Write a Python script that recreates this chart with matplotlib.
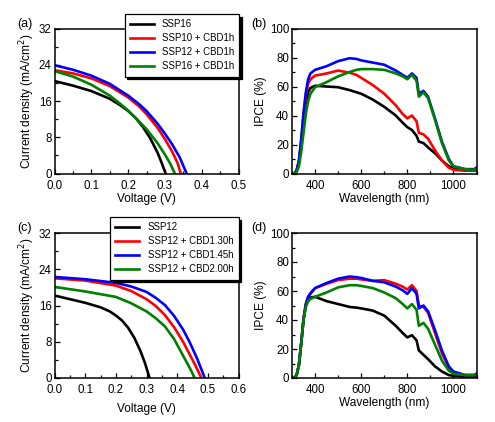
import matplotlib
matplotlib.use("Agg")
import matplotlib.pyplot as plt
from matplotlib.ticker import MultipleLocator

plt.rcParams['font.family'] = ['Liberation Sans', 'DejaVu Sans']

# ---------------- Panel (a) J-V ----------------
a_labels = ["SSP16", "SSP10 + CBD1h", "SSP12 + CBD1h", "SSP16 + CBD1h"]
a_v_black = [0.0, 0.05, 0.1, 0.15, 0.18, 0.2, 0.22, 0.24, 0.26, 0.28, 0.29, 0.302]
a_j_black = [20.4, 19.4, 18.2, 16.5, 15.0, 13.8, 12.3, 10.3, 7.8, 4.6, 2.6, 0.0]
a_v_red = [0.0, 0.05, 0.1, 0.15, 0.2, 0.23, 0.25, 0.28, 0.3, 0.32, 0.335, 0.343]
a_j_red = [22.8, 22.1, 21.0, 19.3, 16.8, 14.8, 13.1, 10.1, 7.6, 4.8, 2.2, 0.0]
a_v_blue = [0.0, 0.05, 0.1, 0.15, 0.2, 0.23, 0.25, 0.28, 0.3, 0.32, 0.34, 0.359]
a_j_blue = [23.9, 22.9, 21.6, 19.8, 17.2, 15.3, 13.8, 11.0, 8.8, 6.4, 3.6, 0.0]
a_v_green = [0.0, 0.05, 0.1, 0.15, 0.18, 0.2, 0.22, 0.25, 0.28, 0.3, 0.315, 0.327]
a_j_green = [22.6, 21.4, 19.6, 17.2, 15.3, 13.9, 12.3, 9.8, 6.7, 4.2, 2.1, 0.0]

# ---------------- Panel (c) J-V ----------------
c_labels = ["SSP12", "SSP12 + CBD1.30h", "SSP12 + CBD1.45h", "SSP12 + CBD2.00h"]
c_v_black = [0.0, 0.05, 0.1, 0.15, 0.18, 0.2, 0.22, 0.24, 0.26, 0.28, 0.295, 0.31]
c_j_black = [18.2, 17.4, 16.6, 15.6, 14.7, 13.8, 12.7, 11.1, 8.9, 6.0, 3.3, 0.0]
c_v_red = [0.0, 0.1, 0.2, 0.25, 0.3, 0.33, 0.36, 0.39, 0.42, 0.44, 0.46, 0.479]
c_j_red = [22.0, 21.5, 20.4, 19.2, 17.4, 15.9, 13.9, 11.2, 7.9, 5.3, 2.7, 0.0]
c_v_blue = [0.0, 0.1, 0.2, 0.25, 0.3, 0.33, 0.36, 0.39, 0.42, 0.44, 0.465, 0.49]
c_j_blue = [22.3, 21.8, 21.0, 20.2, 19.0, 17.7, 16.1, 13.7, 10.6, 8.0, 4.3, 0.0]
c_v_green = [0.0, 0.1, 0.2, 0.25, 0.3, 0.33, 0.36, 0.39, 0.41, 0.43, 0.445, 0.457]
c_j_green = [20.1, 19.1, 17.9, 16.5, 14.7, 13.2, 11.4, 8.6, 6.1, 3.6, 1.7, 0.0]

# ---------------- Panel (b) IPCE ----------------
wl = [300, 310, 320, 330, 340, 350, 360, 370, 380, 400, 450, 500, 550, 580, 600, 650,
      700, 750, 780, 800, 820, 840, 850, 870, 890, 920, 950, 980, 1000, 1050, 1090, 1100]
b_black = [0, 0, 2, 8, 20, 36, 48, 56, 59, 60.5, 60, 59.5, 57.5, 56, 55, 51,
           46, 40, 35, 32, 30, 26, 22, 21, 18, 14, 9, 5, 3.5, 2, 2, 2]
b_red = [0, 0, 2, 8, 22, 40, 54, 62, 65, 67.5, 69, 71, 69.5, 68, 66, 61,
         55, 47, 41, 38, 40, 36, 28, 27, 24, 16, 9, 4, 2.5, 2, 2, 2]
b_blue = [0, 0, 2, 9, 24, 42, 56, 65, 69, 71.5, 74, 77.5, 79.5, 79, 78, 76.5,
          75, 71, 68, 66, 69, 66, 55, 57, 53, 38, 22, 10, 5, 3, 3, 4]
b_green = [0, 0, 1, 5, 15, 28, 41, 50, 55, 59.5, 63, 67, 70, 71.5, 72, 72,
           71.5, 69, 67, 65, 68, 64, 53, 56, 52, 37, 21, 9, 5, 3, 2.5, 3]

# ---------------- Panel (d) IPCE ----------------
d_black = [0, 0, 2, 9, 24, 40, 50, 54, 55.5, 56, 53, 51, 49, 48.5, 48, 46.5,
           43, 36, 31, 28, 29.5, 26, 19, 16, 13, 8, 4.5, 2, 1.5, 1, 1, 1.5]
d_red = [0, 0, 2, 9, 24, 41, 51, 56, 58, 62, 65, 67.5, 68.5, 68.5, 68, 67,
         67.5, 65, 63, 61, 64, 60, 50, 49, 45, 31, 17, 7, 4, 2, 2, 2]
d_blue = [0, 0, 2, 9, 24, 41, 51, 56, 58.5, 62, 65.5, 68.5, 70, 69.5, 69, 67,
          66, 63, 60.5, 58, 62, 58, 48, 50, 46, 33, 19, 8, 4.5, 2, 2, 3]
d_green = [0, 0, 2, 9, 24, 40, 49, 53, 54.5, 56, 59, 62.5, 64, 64, 63.5, 62,
           59, 55, 51, 48, 51, 47, 36, 38, 34, 23, 12, 5, 3, 2, 2, 2]

colors = ["black", "#ff0000", "#0000ff", "#008000"]
LW = 1.9

fig = plt.figure(figsize=(4.95, 4.22), dpi=100)
W, H = 495.0, 422.0

def ax_at(l, t, r, b):
    return fig.add_axes([l / W, 1 - b / H, (r - l) / W, (b - t) / H])

axa = ax_at(54.5, 28.5, 238.5, 173.5)
axb = ax_at(292.0, 28.5, 476.5, 173.5)
axc = ax_at(54.5, 233.0, 238.5, 378.0)
axd = ax_at(292.0, 233.0, 476.5, 378.0)

def style(ax, xmaj, xmin, ymaj, ymin):
    ax.xaxis.set_major_locator(MultipleLocator(xmaj))
    ax.xaxis.set_minor_locator(MultipleLocator(xmin))
    ax.yaxis.set_major_locator(MultipleLocator(ymaj))
    ax.yaxis.set_minor_locator(MultipleLocator(ymin))
    ax.tick_params(which='both', direction='in', top=False, right=False,
                   labelsize=8.3, width=0.9)
    ax.tick_params(axis='x', which='major', pad=4.6)
    ax.tick_params(axis='y', which='major', pad=2.0)
    ax.tick_params(which='major', length=3.5)
    ax.tick_params(which='minor', length=2)
    for s in ax.spines.values():
        s.set_linewidth(1.1)

legkw = dict(loc='upper right', fontsize=6.9, frameon=True, fancybox=False,
             edgecolor='black', handlelength=2.5, labelspacing=0.42,
             borderpad=0.55, handletextpad=0.85, borderaxespad=0,
             shadow={'color': 'black', 'alpha': 1})

# (a)
for v, j, c, lab in zip([a_v_black, a_v_red, a_v_blue, a_v_green],
                        [a_j_black, a_j_red, a_j_blue, a_j_green], colors, a_labels):
    axa.plot(v, j, color=c, lw=LW, label=lab, solid_joinstyle='round')
axa.set_xlim(0, 0.5)
axa.set_ylim(0, 32)
style(axa, 0.1, 0.05, 8, 4)
axa.xaxis.set_major_formatter(plt.FormatStrFormatter('%.1f'))
axa.set_xlabel("Voltage (V)", fontsize=8.6, labelpad=0.5)
axa.set_ylabel("Current density (mA/cm$^2$)", fontsize=8.6, labelpad=1.5)
leg = axa.legend(bbox_to_anchor=(1.005, 1.1), **legkw)
leg.get_frame().set_linewidth(0.9)
leg.set_zorder(10)

# (c)
for v, j, c, lab in zip([c_v_black, c_v_red, c_v_blue, c_v_green],
                        [c_j_black, c_j_red, c_j_blue, c_j_green], colors, c_labels):
    axc.plot(v, j, color=c, lw=LW, label=lab, solid_joinstyle='round')
axc.set_xlim(0, 0.6)
axc.set_ylim(0, 32)
style(axc, 0.1, 0.05, 8, 4)
axc.xaxis.set_major_formatter(plt.FormatStrFormatter('%.1f'))
axc.set_xlabel("Voltage (V)", fontsize=8.6, labelpad=4.5)
axc.set_ylabel("Current density (mA/cm$^2$)", fontsize=8.6, labelpad=1.5)
leg = axc.legend(bbox_to_anchor=(1.0, 1.11), **legkw)
leg.get_frame().set_linewidth(0.9)
leg.set_zorder(10)

# (b), (d)
for ax, series in [(axb, [b_black, b_red, b_blue, b_green]),
                   (axd, [d_black, d_red, d_blue, d_green])]:
    for y, c in zip(series, colors):
        ax.plot(wl, y, color=c, lw=LW, solid_joinstyle='round')
    ax.set_xlim(300, 1100)
    ax.set_ylim(0, 100)
    style(ax, 200, 100, 20, 10)
    ax.set_xlabel("Wavelength (nm)", fontsize=8.6, labelpad=0.5)
    ax.set_ylabel("IPCE (%)", fontsize=8.6, labelpad=2)

fig.text(17 / W, 1 - 24 / H, "(a)", fontsize=9, va='center', ha='left')
fig.text(251 / W, 1 - 24 / H, "(b)", fontsize=9, va='center', ha='left')
fig.text(17 / W, 1 - 228 / H, "(c)", fontsize=9, va='center', ha='left')
fig.text(251 / W, 1 - 228 / H, "(d)", fontsize=9, va='center', ha='left')

fig.savefig("out.png", dpi=100)
